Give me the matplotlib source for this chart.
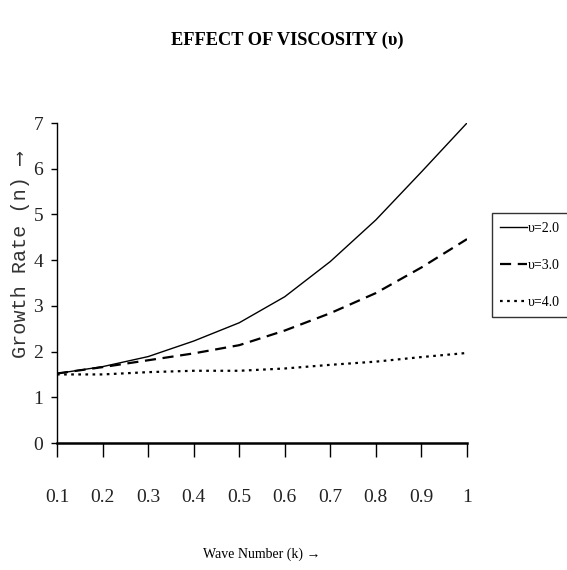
import matplotlib
matplotlib.use("Agg")
import matplotlib.pyplot as plt

# wave number k
k = [0.1, 0.2, 0.3, 0.4, 0.5, 0.6, 0.7, 0.8, 0.9, 1.0]

# growth rate n for each viscosity
n_v2 = [1.52, 1.67, 1.89, 2.23, 2.63, 3.20, 3.97, 4.88, 5.93, 7.00]
n_v3 = [1.52, 1.66, 1.81, 1.96, 2.14, 2.46, 2.84, 3.28, 3.84, 4.46]
n_v4 = [1.50, 1.50, 1.55, 1.58, 1.58, 1.63, 1.71, 1.78, 1.88, 1.97]

labels = ["\u03c5=2.0", "\u03c5=3.0", "\u03c5=4.0"]
y_ticks = [0, 1, 2, 3, 4, 5, 6, 7]

fig = plt.figure(figsize=(5.67, 5.70), dpi=100)
ax = fig.add_axes([0.1005, 0.2228, 0.7231, 0.5614])

ax.plot(k, n_v2, color='black', linestyle='-', linewidth=1.0, label=labels[0])
ax.plot(k, n_v3, color='black', linestyle=(0, (5, 3)), linewidth=1.6, label=labels[1])
ax.plot(k, n_v4, color='black', linestyle=(0, (1.2, 2)), linewidth=1.6, label=labels[2])

ax.set_xlim(0.1, 1.0)
ax.set_ylim(0, 7)
ax.set_xticks(k)
ax.set_xticklabels(['0.1', '0.2', '0.3', '0.4', '0.5', '0.6', '0.7', '0.8', '0.9', '1'])
ax.set_yticks(y_ticks)

for side in ['top', 'right']:
    ax.spines[side].set_visible(False)
ax.spines['bottom'].set_linewidth(1.8)
ax.spines['left'].set_linewidth(1.0)

ax.tick_params(axis='x', direction='out', length=10, width=1, pad=23,
               labelsize=14)
ax.tick_params(axis='y', direction='out', length=4, width=1, pad=6,
               labelsize=14)
for lab in ax.get_xticklabels() + ax.get_yticklabels():
    lab.set_family('Liberation Serif')
    lab.set_color('#222222')

fig.text(0.506, 0.93, "EFFECT OF VISCOSITY (\u03c5)", ha='center', va='center',
         fontsize=13.2, fontweight='bold', family='Liberation Serif')
fig.text(0.036, 0.553, "Growth Rate (n) \u27f6", rotation=90, ha='center',
         va='center', fontsize=14.5,
         family=['Liberation Mono', 'DejaVu Sans Mono', 'DejaVu Sans'],
         color='#333333')
fig.text(0.462, 0.027, "Wave Number (k) \u2192", ha='center', va='center',
         fontsize=10, family='Liberation Serif')

# legend frame runs off the right edge like the original, text stays inside
leg = ax.legend(loc='upper left', bbox_to_anchor=(0.868, 0.626, 0.2, 0.0),
                bbox_transform=fig.transFigure, borderaxespad=0, mode='expand',
                frameon=True, fancybox=False, edgecolor='black',
                handlelength=1.9, labelspacing=1.75, borderpad=0.6,
                handletextpad=0.1,
                prop={'family': 'Liberation Serif', 'size': 10})
leg.get_frame().set_linewidth(1.0)

fig.savefig("out.png", dpi=100)
